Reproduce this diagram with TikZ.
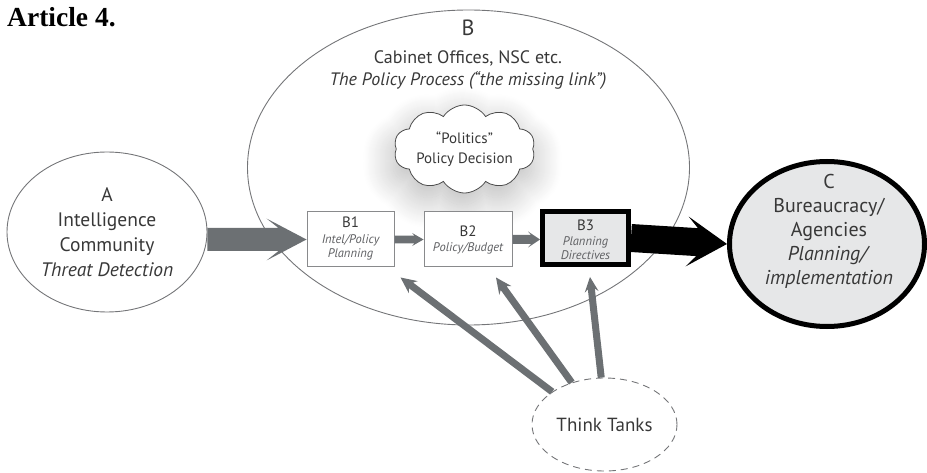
\documentclass[tikz,border=0pt]{standalone}
\usepackage{fontspec}
\setmainfont{PT Sans}
\newfontfamily\titlefont{Liberation Serif}
\usetikzlibrary{shapes.geometric,shapes.symbols,calc,shadows.blur}

\definecolor{outline}{HTML}{747578}
\definecolor{flow}{HTML}{6C7073}
\definecolor{ink}{HTML}{383838}
\definecolor{soft}{HTML}{5F6063}
\definecolor{panel}{HTML}{E6E7E8}

% Block arrow drawn as a filled outline:
% [fill]{tail}{tip}{shaft half width}{head half width}{head length}{shaft join distance}
\newcommand{\flowarrow}[7][flow]{%
  \path ($(#3)!#6!(#2)$) coordinate (fa-h)
        ($(#3)!#7!(#2)$) coordinate (fa-j);
  \fill[#1] ($(#2)!#4!90:(#3)$) -- ($(fa-j)!#4!90:(#3)$) -- ($(fa-h)!#5!90:(#3)$) -- (#3)
     -- ($(fa-h)!#5!-90:(#3)$) -- ($(fa-j)!#4!-90:(#3)$) -- ($(#2)!#4!-90:(#3)$) -- cycle;
}

\tikzset{
  txt/.style={text=ink, inner sep=0pt, align=center},
  oval/.style={ellipse, draw=outline, line width=0.9pt, inner sep=0pt},
  stagebox/.style={rectangle, draw=outline!85, line width=1pt, fill=white, inner sep=0pt},
  boxhead/.style={txt, font=\fontsize{15}{15}\selectfont},
  boxsub/.style={txt, text=soft, font=\fontsize{12.5}{14}\selectfont\itshape},
}

\begin{document}
\begin{tikzpicture}[x=1pt, y=-1pt]
\useasboundingbox (0,0) rectangle (927,473);

% title
\node[anchor=base west, inner sep=0pt, font=\titlefont\bfseries\fontsize{27.5}{27.5}\selectfont] (title) at (7,27) {Article 4.};

% B: the policy process
\node[oval, minimum width=442pt, minimum height=315pt] (B) at (468.5,167.5) {};
\node[txt, font=\fontsize{22}{22}\selectfont] (Bhead) at (468,28) {B};
\node[txt, font=\fontsize{18}{22}\selectfont] (Btext) at (468,70)
  {Cabinet Offices, NSC etc.\\\textit{The Policy Process (“the missing link”)}};

% cloud with soft shadow
\node[cloud, cloud puffs=10, cloud puff arc=115, aspect=2, draw=ink!90, line width=0.8pt,
      fill=white, minimum width=135pt, minimum height=72pt, inner sep=0pt,
      text=ink, align=center, font=\fontsize{15}{20}\selectfont,
      blur shadow={shadow xshift=-2pt, shadow yshift=-12pt, shadow blur radius=30pt,
                   shadow blur steps=30, shadow opacity=28}] (cloud) at (464.5,149)
  {“Politics”\\Policy Decision};

% A
\node[oval, minimum width=200pt, minimum height=160pt, txt, text=ink,
      font=\fontsize{19.5}{25}\selectfont] (A) at (107,232)
  {A\\Intelligence\\Community\\\textit{Threat Detection}};

% stages B1, B2, B3
\node[stagebox, minimum width=87pt, minimum height=55pt] (B1) at (350.5,239.5) {};
\node[boxhead] (B1h) at ($(B1.north)+(0,11)$) {B1};
\node[boxsub] (B1t) at ($(B1.north)+(0,36)$) {Intel/Policy\\Planning};

\node[stagebox, minimum width=88pt, minimum height=55pt] (B2) at (468,239.5) {};
\node[boxhead] (B2h) at ($(B2.north)+(0,20)$) {B2};
\node[boxsub] (B2t) at ($(B2.north)+(0,37)$) {Policy/Budget};

\node[rectangle, draw=black, line width=5pt, fill=panel, inner sep=0pt,
      minimum width=86pt, minimum height=53pt] (B3) at (585.5,238) {};
\node[boxhead] (B3h) at ($(B3.north)+(0,16)$) {B3};
\node[boxsub] (B3t) at ($(B3.north)+(0,39.5)$) {Planning\\Directives};

% C
\node[ellipse, draw=black, line width=5pt, fill=panel, inner sep=0pt,
      minimum width=195pt, minimum height=165pt] (C) at (827,244) {};
\node[txt, font=\fontsize{20}{24}\selectfont] (Ctext) at (829,231)
  {C\\Bureaucracy/\\Agencies\\\textit{Planning/}\\\textit{implementation}};

% think tanks
\node[ellipse, draw=outline, line width=0.9pt, dash pattern=on 7pt off 5pt,
      minimum width=145pt, minimum height=93pt, inner sep=0pt,
      txt, text=ink, font=\fontsize{19}{19}\selectfont] (TT) at (604.5,424.5) {Think Tanks};

% arrow end points
\coordinate (a-out) at (A.east |- B1.west);
\coordinate (b23-in) at (B3.west |- B2.east);
\coordinate (tt1-in) at ($(B1.south east)+(6,10)$);
\coordinate (tt2-in) at ($(B2.south)+(28,10)$);
\coordinate (tt3-in) at ($(B3.south)+(4.5,10)$);

% main flow
\flowarrow{a-out}{B1.west}{11.5pt}{21pt}{40pt}{28pt}
\flowarrow{B1.east}{B2.west}{3.8pt}{6.6pt}{11.5pt}{9pt}
\flowarrow{B2.east}{b23-in}{4.5pt}{8pt}{12pt}{9pt}
\flowarrow[black]{B3.east}{C.west}{14pt}{25pt}{40pt}{30pt}

% think tank inputs
\flowarrow{TT.148}{tt1-in}{3.5pt}{7.5pt}{16pt}{13pt}
\flowarrow{TT.128}{tt2-in}{3.5pt}{7.5pt}{16pt}{13pt}
\flowarrow{TT.94}{tt3-in}{3.5pt}{7pt}{15pt}{12pt}
\end{tikzpicture}
\end{document}
